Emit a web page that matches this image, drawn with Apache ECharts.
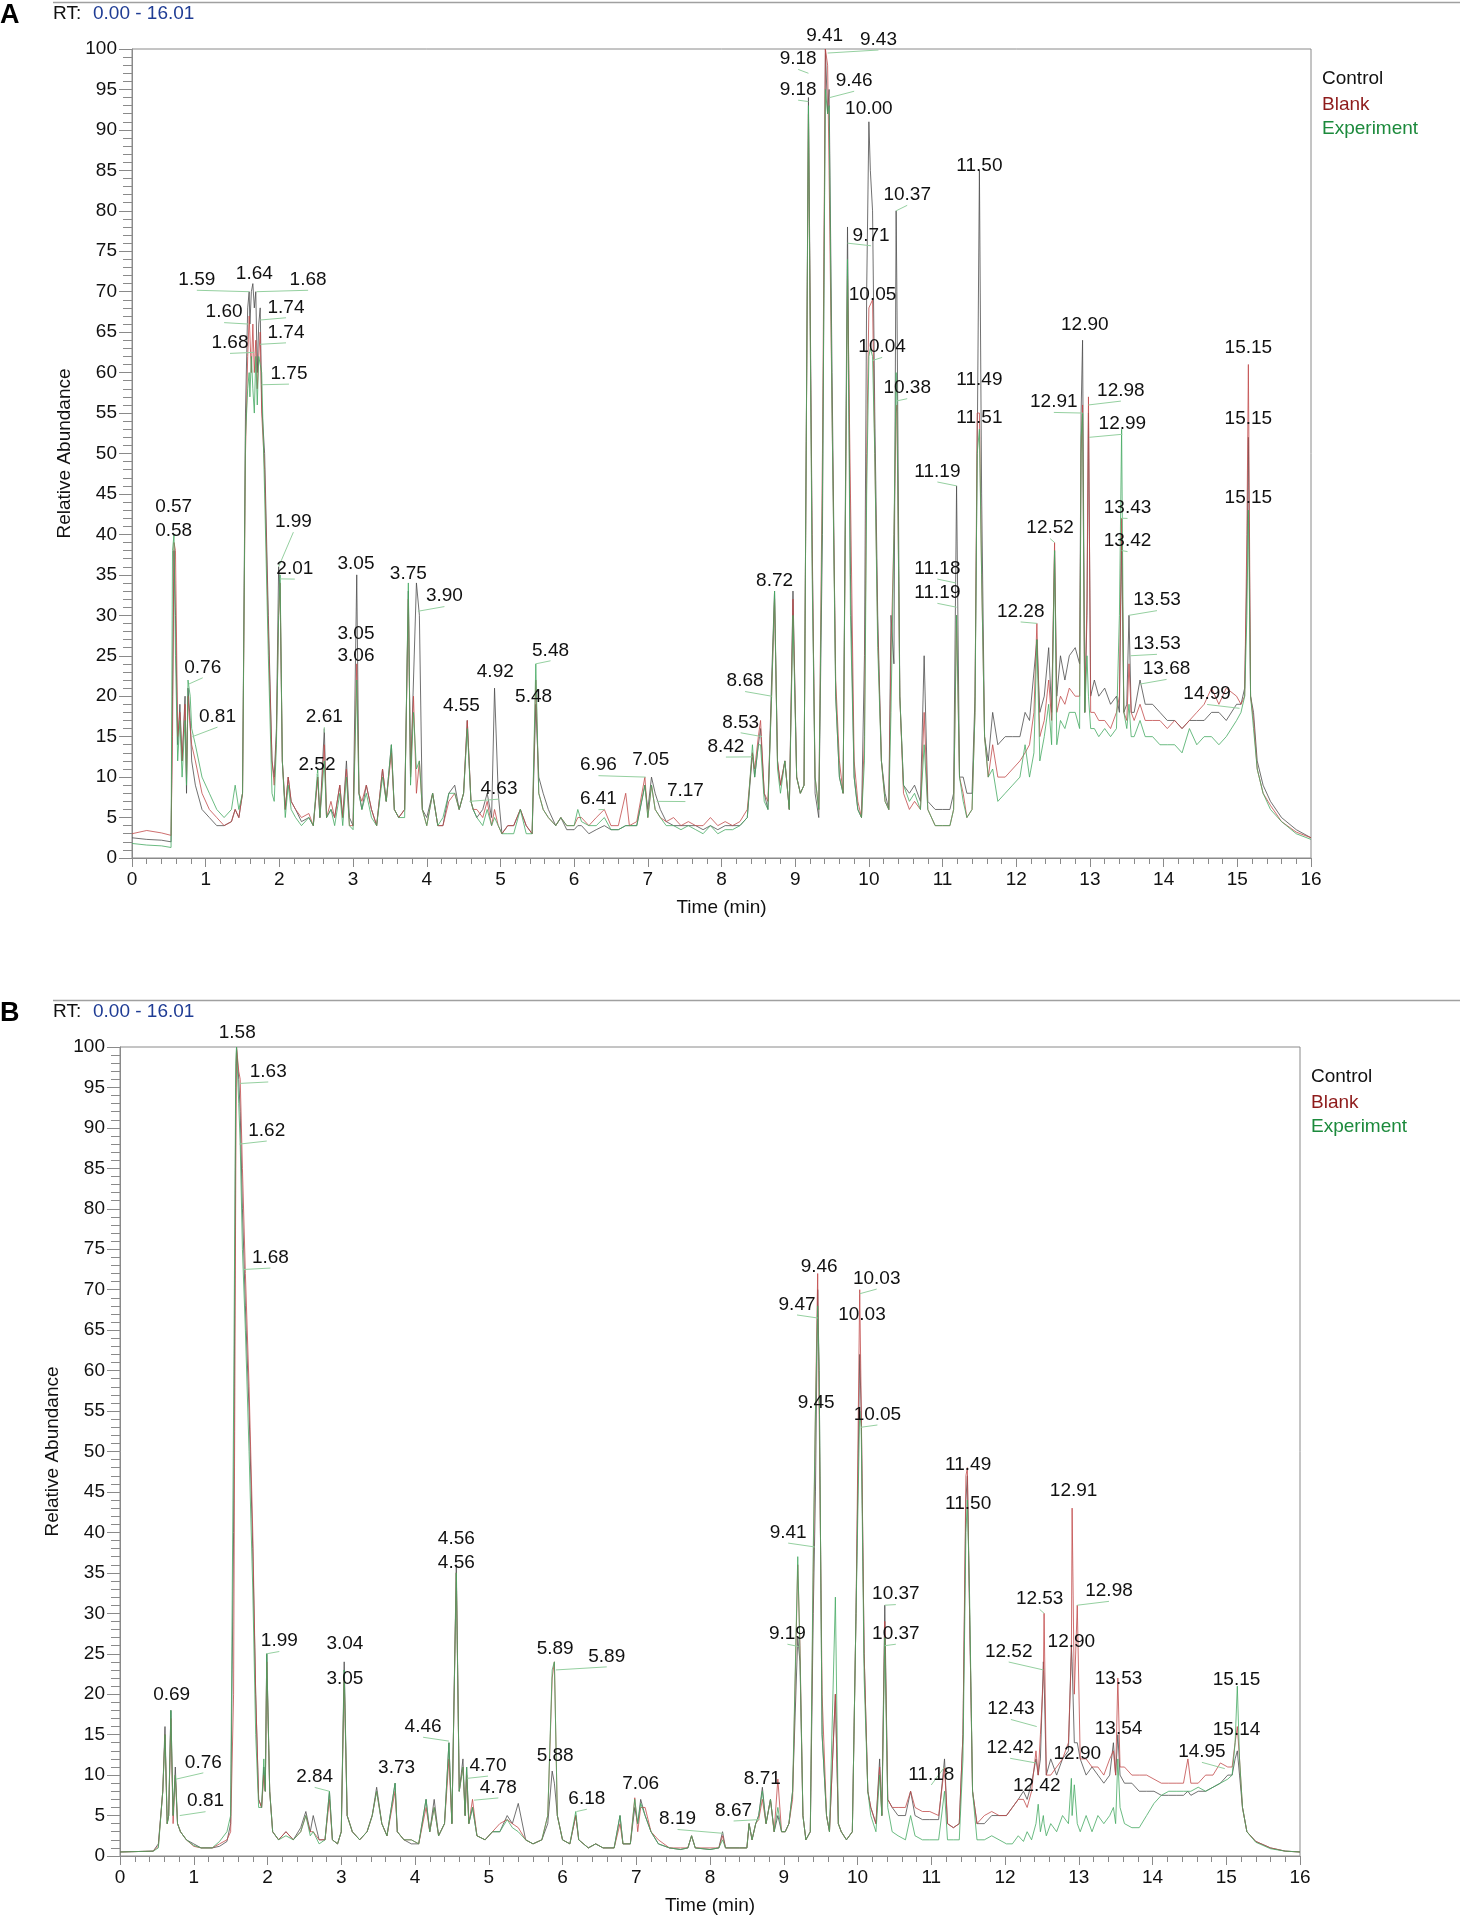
<!DOCTYPE html>
<html lang="en">
<head>
<meta charset="UTF-8">
<title>Chromatograms</title>
<script src="https://cdn.jsdelivr.net/npm/echarts@6/dist/echarts.min.js"></script>
<style>
  html, body { margin: 0; padding: 0; background: #fff; }
  #container { width: 1463px; height: 1919px; }
</style>
</head>
<body>
<div id="container"></div>
<script type="text/javascript">
// ---- panel A: retention time (min) and relative abundance per trace ----
var timesA = [
  0, 0.2, 0.4, 0.53, 0.55, 0.57, 0.59, 0.62, 0.65, 0.68,
  0.72, 0.74, 0.76, 0.79, 0.81, 0.86, 0.95, 1.05, 1.15, 1.25,
  1.35, 1.40, 1.45, 1.50, 1.54, 1.57, 1.59, 1.60, 1.62, 1.64,
  1.66, 1.68, 1.70, 1.72, 1.74, 1.76, 1.80, 1.85, 1.90, 1.93,
  1.96, 1.99, 2.01, 2.04, 2.08, 2.12, 2.16, 2.22, 2.30, 2.40,
  2.46, 2.52, 2.55, 2.61, 2.64, 2.70, 2.75, 2.82, 2.86, 2.91,
  2.95, 3.00, 3.05, 3.08, 3.12, 3.18, 3.25, 3.32, 3.40, 3.45,
  3.52, 3.56, 3.62, 3.70, 3.75, 3.78, 3.82, 3.86, 3.90, 3.94,
  4.00, 4.08, 4.15, 4.22, 4.30, 4.38, 4.44, 4.50, 4.55, 4.60,
  4.63, 4.68, 4.76, 4.82, 4.88, 4.92, 4.97, 5.02, 5.10, 5.18,
  5.27, 5.35, 5.43, 5.48, 5.52, 5.58, 5.65, 5.75, 5.82, 5.90,
  6.00, 6.05, 6.10, 6.20, 6.30, 6.41, 6.50, 6.60, 6.70, 6.75,
  6.85, 6.96, 7.00, 7.05, 7.10, 7.17, 7.25, 7.35, 7.45, 7.55,
  7.65, 7.75, 7.85, 7.95, 8.05, 8.15, 8.25, 8.35, 8.42, 8.45,
  8.50, 8.53, 8.58, 8.63, 8.68, 8.72, 8.76, 8.80, 8.86, 8.92,
  8.97, 9.02, 9.07, 9.12, 9.18, 9.23, 9.27, 9.32, 9.37, 9.41,
  9.44, 9.46, 9.50, 9.55, 9.60, 9.65, 9.71, 9.75, 9.80, 9.85,
  9.90, 9.94, 9.97, 10.00, 10.02, 10.05, 10.08, 10.12, 10.17, 10.22,
  10.27, 10.30, 10.34, 10.37, 10.38, 10.42, 10.47, 10.55, 10.62, 10.70,
  10.75, 10.80, 10.90, 11.00, 11.10, 11.15, 11.19, 11.23, 11.28, 11.33,
  11.40, 11.44, 11.47, 11.50, 11.53, 11.57, 11.62, 11.68, 11.75, 11.85,
  11.95, 12.05, 12.12, 12.18, 12.24, 12.28, 12.32, 12.38, 12.44, 12.48,
  12.52, 12.55, 12.60, 12.66, 12.72, 12.80, 12.86, 12.88, 12.90, 12.93,
  12.96, 12.98, 13.01, 13.06, 13.12, 13.20, 13.28, 13.36, 13.40, 13.43,
  13.46, 13.50, 13.53, 13.56, 13.60, 13.68, 13.75, 13.85, 13.95, 14.05,
  14.15, 14.25, 14.35, 14.45, 14.55, 14.65, 14.75, 14.85, 14.99, 15.05,
  15.10, 15.13, 15.15, 15.18, 15.22, 15.27, 15.35, 15.45, 15.60, 15.80,
  16.00
];
var controlA = [
  2.5, 2.3, 2.2, 2.0, 20, 38, 30, 14, 19, 12,
  20, 8, 21, 17, 12, 9, 6, 5, 4, 4,
  4.5, 6, 5, 8, 55, 68, 70, 66, 70, 71,
  68, 70, 60, 66, 68, 56, 50, 30, 12, 10,
  16, 36, 33, 12, 6, 10, 7, 6, 4.5, 5,
  4, 10, 5, 16, 5, 6, 5, 9, 5, 12,
  5, 4, 35, 8, 6, 9, 6, 4, 11, 7,
  14, 6, 5, 6, 33, 10, 22, 34, 30, 6,
  5, 8, 4, 4, 8, 9, 6, 8, 17, 7,
  6, 5, 6, 8, 5, 21, 8, 3, 4, 4,
  6, 4, 3, 19, 10, 8, 6, 4, 5, 3.5,
  3.5, 4, 4, 3, 3.5, 4, 3.5, 3.5, 4, 4,
  4, 9, 6, 10, 8, 6, 4.5, 4, 4, 4,
  4, 3.5, 4, 3.5, 4, 4, 4, 5, 13, 10,
  14, 16, 8, 6, 22, 33, 12, 9, 12, 6,
  33, 10, 8, 9, 94, 40, 8, 5, 40, 100,
  92, 95, 60, 20, 10, 8, 78, 35, 10, 6,
  5, 25, 70, 91, 85, 80, 55, 30, 12, 8,
  6, 30, 24, 80, 70, 20, 9, 8, 9, 7,
  25, 7, 6, 6, 6, 8, 46, 10, 10, 8,
  8, 20, 50, 85, 45, 15, 12, 18, 14, 15,
  15, 15, 18, 17, 23, 27, 18, 20, 26, 18,
  38, 20, 25, 22, 25, 26, 24, 55, 64, 18,
  30, 55, 20, 22, 20, 21, 19, 20, 18, 40,
  18, 19, 30, 18, 18, 22, 19, 19, 18, 17,
  17, 16, 17, 17, 17, 18, 18, 17, 19, 19,
  21, 35, 52, 20, 18, 12, 9, 7, 5, 3.5,
  2.5
];
var blankA = [
  3.0, 3.4, 3.1, 2.8, 15, 39, 38, 15, 18, 12,
  19, 10, 20, 16, 14, 12, 8, 6, 5, 4,
  4.5, 6, 5, 8, 50, 62, 67, 67, 60, 66,
  60, 64, 58, 62, 65, 55, 48, 28, 12, 9,
  15, 30, 34, 12, 6, 10, 7, 6, 5, 5.5,
  4, 10, 5, 14, 5, 7, 5, 9, 5, 11,
  4, 4, 24, 8, 7, 9, 6, 4, 11, 7,
  13, 6, 5, 6, 32, 10, 20, 8, 12, 6,
  4, 8, 4, 4, 7, 8, 6, 8, 17, 7,
  6, 6, 5, 7, 4, 6, 4, 3, 4, 4,
  6, 4, 3, 22, 8, 6, 5, 4, 5, 4,
  4, 5, 5, 4, 5, 6, 4, 4, 8, 4,
  4.5, 10, 5, 9, 6, 5, 4.5, 5, 4, 4.5,
  4, 4, 5, 4, 4.5, 4, 4.5, 6, 13, 11,
  15, 17, 8, 7, 20, 32, 12, 9, 12, 6,
  32, 10, 8, 9, 92, 38, 10, 6, 50, 100,
  98, 85, 55, 22, 12, 8, 72, 45, 12, 7,
  5, 15, 50, 68, 68, 69, 50, 28, 12, 7,
  6, 25, 40, 55, 56, 20, 8, 6, 7, 6,
  18, 6, 4, 4, 4, 6, 30, 10, 8, 5,
  6, 18, 55, 55, 35, 15, 10, 14, 10, 10,
  11, 12, 13, 14, 18, 29, 15, 17, 22, 17,
  39, 18, 20, 19, 21, 20, 20, 50, 56, 18,
  32, 57, 18, 18, 17, 17, 16, 18, 20, 42,
  18, 17, 24, 18, 17, 19, 17, 17, 17, 16,
  17, 16, 17, 18, 19, 21, 19, 21, 20, 19,
  20, 40, 61, 20, 17, 11, 8, 6.5, 4.5, 3.2,
  2.5
];
var experimentA = [
  1.8, 1.6, 1.5, 1.3, 38, 40, 25, 12, 17, 10,
  17, 9, 22, 20, 16, 14, 10, 8, 6, 5,
  6, 9, 6, 8, 52, 58, 60, 57, 62, 58,
  55, 62, 56, 62, 61, 60, 45, 25, 8, 7,
  14, 30, 35, 12, 5, 9, 6, 5, 4, 5,
  4, 11, 5, 12, 5, 6, 4, 8, 4, 10,
  4, 3.5, 22, 8, 6, 8, 5, 4, 10, 7,
  14, 6, 5, 5, 34, 9, 18, 11, 12, 6,
  4, 8, 4, 5, 8, 8, 6, 8, 16, 7,
  6, 5, 4, 6, 4, 5, 4, 3, 3, 3,
  6, 3, 3, 24, 8, 6, 5, 4, 5, 4,
  4, 6, 4.5, 4, 4, 5, 3.5, 3.5, 4, 4,
  4, 9, 5, 9, 6, 5, 4, 4, 3.5, 4,
  3.5, 3, 4, 3, 3.5, 3.5, 4, 5, 14, 10,
  14, 14, 7, 6, 20, 33, 11, 8, 12, 6,
  30, 10, 8, 9, 93, 35, 10, 6, 45, 95,
  92, 93, 55, 20, 10, 8, 74, 30, 10, 6,
  5, 12, 45, 62, 63, 62, 50, 26, 12, 7,
  6, 18, 40, 60, 57, 20, 9, 7, 8, 6,
  14, 6, 4, 4, 4, 6, 30, 10, 7, 5,
  6, 18, 50, 53, 35, 15, 10, 11, 7, 8,
  9, 10, 14, 10, 13, 27, 12, 15, 19, 14,
  38, 14, 17, 16, 18, 18, 16, 52, 55, 18,
  25, 20, 16, 16, 15, 16, 15, 16, 30, 53,
  18, 16, 19, 15, 15, 17, 15, 15, 14, 14,
  14, 13, 16, 14, 15, 15, 14, 15, 17, 18,
  20, 30, 43, 20, 16, 11, 8, 6, 4.5, 3,
  2.3
];

// peak labels of panel A: text, label anchor (time, abundance), leader end (null = none)
var labelTextA = ['0.57', '0.58', '0.76', '0.81', '1.59', '1.64', '1.68', '1.60', '1.74', '1.68',
  '1.74', '1.75', '1.99', '2.01', '2.61', '2.52', '3.05', '3.05', '3.06', '3.75',
  '3.90', '4.55', '4.63', '4.92', '5.48', '5.48', '6.96', '7.05', '6.41', '7.17',
  '8.42', '8.53', '8.68', '8.72', '9.41', '9.43', '9.18', '9.18', '9.46', '10.00',
  '9.71', '10.05', '10.04', '10.37', '10.38', '11.50', '11.49', '11.51', '11.19', '11.18',
  '11.19', '12.28', '12.52', '12.90', '12.91', '12.98', '12.99', '13.43', '13.42', '13.53',
  '13.53', '13.68', '14.99', '15.15', '15.15', '15.15'];
var labelTimeA = [0.565, 0.565, 0.96, 1.16, 0.88, 1.66, 2.39, 1.25, 2.09, 1.33,
  2.09, 2.13, 2.19, 2.21, 2.61, 2.51, 3.04, 3.04, 3.04, 3.75,
  4.24, 4.47, 4.98, 4.93, 5.68, 5.45, 6.33, 7.04, 6.33, 7.51,
  8.06, 8.26, 8.32, 8.72, 9.40, 10.13, 9.04, 9.04, 9.80, 10.00,
  10.03, 10.05, 10.18, 10.52, 10.52, 11.50, 11.50, 11.50, 10.93, 10.93,
  10.93, 12.06, 12.46, 12.93, 12.51, 13.42, 13.44, 13.51, 13.51, 13.91,
  13.91, 14.04, 14.59, 15.15, 15.15, 15.15];
var labelValueA = [42.2, 39.3, 22.4, 16.3, 70.3, 71.1, 70.3, 66.3, 66.9, 62.5,
  63.8, 58.7, 40.4, 34.6, 16.3, 10.4, 35.2, 26.6, 23.8, 33.9,
  31.2, 17.7, 7.4, 21.9, 24.5, 18.8, 10.3, 11.0, 6.1, 7.1,
  12.6, 15.6, 20.7, 33.1, 100.5, 100.0, 97.6, 93.8, 94.9, 91.4,
  75.8, 68.5, 62.0, 80.8, 56.9, 84.4, 57.9, 53.3, 46.6, 34.6,
  31.6, 29.3, 39.6, 64.8, 55.2, 56.6, 52.5, 42.1, 38.0, 30.7,
  25.3, 22.2, 19.1, 61.9, 53.1, 43.4];
var leadTimeA = [null, null, 0.77, 0.82, 1.59, null, 1.69, 1.58, 1.74, 1.66,
  1.74, 1.76, 1.99, 2.01, 2.61, 2.52, null, null, null, null,
  3.88, null, 4.58, null, 5.48, null, 6.97, null, 6.41, 7.12,
  8.42, 8.55, 8.68, null, null, 9.44, 9.18, 9.18, 9.47, null,
  9.71, null, 10.05, 10.37, 10.38, null, null, null, 11.19, 11.18,
  11.19, 12.28, 12.52, null, 12.90, 12.98, 12.99, 13.43, 13.43, 13.53,
  13.55, 13.68, 15.03, null, null, null];
var leadValueA = [null, null, 21.5, 15, 70, null, 70, 66, 66.5, 62.5,
  63.5, 58.5, 36, 34.5, 15.5, 10.5, null, null, null, null,
  30.5, null, 7, null, 24, null, 10, null, 6, 7,
  12.5, 15, 20, null, null, 99.5, 97, 93.5, 94, null,
  76, null, 61.5, 80, 56.5, null, null, null, 46, 34,
  31, 29, 39, null, 55, 56, 52, 42, 38, 30,
  25, 21.5, 18.5, null, null, null];

// ---- panel B ----
var timesB = [
  0, 0.45, 0.52, 0.58, 0.61, 0.64, 0.66, 0.69, 0.72, 0.75,
  0.78, 0.82, 0.90, 1.00, 1.10, 1.25, 1.35, 1.45, 1.50, 1.54,
  1.57, 1.58, 1.61, 1.63, 1.66, 1.70, 1.75, 1.80, 1.84, 1.88,
  1.92, 1.95, 1.97, 1.99, 2.03, 2.07, 2.15, 2.25, 2.35, 2.45,
  2.52, 2.58, 2.62, 2.70, 2.78, 2.84, 2.88, 2.95, 3.00, 3.04,
  3.08, 3.15, 3.25, 3.35, 3.42, 3.48, 3.55, 3.62, 3.73, 3.76,
  3.85, 3.95, 4.05, 4.15, 4.20, 4.26, 4.32, 4.40, 4.46, 4.50,
  4.56, 4.60, 4.65, 4.68, 4.70, 4.73, 4.78, 4.84, 4.95, 5.05,
  5.15, 5.25, 5.32, 5.40, 5.50, 5.60, 5.72, 5.80, 5.86, 5.89,
  5.93, 6.00, 6.10, 6.18, 6.22, 6.35, 6.45, 6.55, 6.70, 6.78,
  6.82, 6.92, 6.98, 7.02, 7.06, 7.12, 7.20, 7.30, 7.45, 7.60,
  7.70, 7.75, 7.80, 8.00, 8.12, 8.17, 8.21, 8.40, 8.50, 8.53,
  8.57, 8.62, 8.66, 8.71, 8.76, 8.82, 8.87, 8.92, 8.97, 9.02,
  9.07, 9.12, 9.19, 9.22, 9.26, 9.30, 9.36, 9.40, 9.43, 9.46,
  9.48, 9.52, 9.58, 9.62, 9.70, 9.74, 9.78, 9.85, 9.93, 9.98,
  10.03, 10.05, 10.09, 10.14, 10.18, 10.25, 10.30, 10.33, 10.37, 10.41,
  10.47, 10.55, 10.65, 10.72, 10.78, 10.88, 10.98, 11.10, 11.18, 11.22,
  11.30, 11.38, 11.43, 11.47, 11.49, 11.52, 11.56, 11.62, 11.72, 11.82,
  11.92, 12.02, 12.10, 12.18, 12.25, 12.30, 12.36, 12.42, 12.45, 12.48,
  12.52, 12.53, 12.56, 12.62, 12.70, 12.78, 12.86, 12.90, 12.91, 12.94,
  12.98, 13.02, 13.10, 13.18, 13.26, 13.34, 13.42, 13.47, 13.50, 13.53,
  13.56, 13.62, 13.72, 13.82, 13.92, 14.02, 14.12, 14.22, 14.32, 14.42,
  14.48, 14.52, 14.62, 14.72, 14.82, 14.92, 15.02, 15.08, 15.12, 15.15,
  15.18, 15.22, 15.28, 15.40, 15.60, 15.80, 16.00
];
var controlB = [
  0.5, 0.6, 1.5, 8, 16, 4, 5, 18, 5, 11,
  4, 3, 2, 1.5, 1, 1, 1.2, 1.8, 4, 40,
  95, 100, 96, 92, 80, 68, 55, 38, 20, 7,
  6, 11, 8, 25, 8, 3, 2, 3, 2, 3.5,
  5.5, 3, 5, 2, 2, 8, 2, 1.5, 3, 24,
  5, 3, 2, 3, 5, 8.5, 4, 2.5, 9, 3,
  2, 1.5, 1.5, 7, 3, 7, 2.5, 4, 14, 4,
  36, 8, 12, 5, 11, 4, 6, 2.5, 2, 3,
  3, 5, 4, 6.5, 2, 1.5, 2, 4, 10.5, 9,
  5, 2, 1.5, 5, 2, 1, 1.5, 1, 1, 5,
  1.5, 1.5, 6, 4, 7, 5, 3, 1.5, 1, 0.8,
  1, 2.5, 1, 0.8, 1, 3, 1, 1, 1, 4,
  2, 4, 5, 8.5, 4, 7, 3, 5, 3, 3,
  4, 8, 27, 24, 5, 2, 3, 30, 45, 70,
  60, 15, 5, 3, 20, 4, 3, 2, 3, 30,
  62, 55, 25, 8, 6, 4, 12, 5, 31, 7,
  6, 5, 5, 8, 5, 4.5, 4.5, 4.5, 12, 4,
  3.5, 4, 15, 44, 47, 30, 8, 4, 4, 5,
  5, 5, 6, 7, 8, 7, 9, 12, 10, 12,
  24, 22, 10, 12, 10, 12, 13, 26, 24, 14,
  14, 12, 10, 11, 10, 9, 10, 14, 10, 15,
  10, 9, 9, 8, 8, 8, 7.5, 7.5, 7.5, 7.5,
  8, 7.5, 8, 8, 8.5, 9, 10, 10, 12, 13,
  10, 6, 3, 1.8, 1.0, 0.6, 0.5
];
var blankB = [
  0.5, 0.6, 1.2, 8, 15, 4, 5, 17, 4, 10,
  4, 3, 2, 1.2, 1, 1, 1.5, 2, 3, 20,
  85, 100, 97, 96, 85, 72, 58, 40, 20, 7,
  6, 10, 8, 24, 8, 3, 2, 3, 2, 3,
  5, 3, 3, 2, 2, 7, 2, 1.5, 3, 22,
  5, 3, 2, 3, 5, 8, 4, 2.5, 8, 3,
  2, 2, 1.5, 6, 3, 6, 2.5, 4, 12, 4,
  35, 8, 11, 5, 10, 4, 7, 2.5, 2, 3,
  4, 4.5, 4, 3.5, 2, 1.5, 2, 5, 22, 24,
  5, 2, 1.5, 5, 2, 1, 1.5, 1, 1, 4,
  1.5, 1.5, 7.2, 3, 6, 6, 3, 2, 1, 1,
  1, 2.5, 1, 1, 1, 2.5, 1, 1, 1, 4,
  2, 4, 4.5, 7, 4, 7, 3, 9.5, 3, 3,
  4, 7, 36, 26, 5, 2, 3, 35, 55, 72,
  55, 20, 5, 3, 20, 4, 3, 2, 3, 30,
  70, 56, 25, 8, 6, 4, 11, 5, 29, 7,
  6, 6, 6, 8, 6, 5.5, 5.5, 5, 11, 4,
  3.5, 4, 15, 47, 48, 30, 8, 4, 5, 5.5,
  5, 5, 6, 7, 7, 6, 8, 13, 10, 15,
  22, 30, 10, 10, 11, 12, 14, 25, 43, 20,
  31, 12, 12, 11, 11, 10, 12, 13, 10, 22,
  11, 11, 10, 10, 10, 9.5, 9, 9, 9, 9,
  12, 9, 9, 10, 10, 11.5, 11, 11, 14, 16,
  12, 6, 3, 1.8, 1.0, 0.6, 0.5
];
var experimentB = [
  0.5, 0.6, 1.0, 8, 15, 4, 5, 18, 5, 10,
  4, 3, 2, 1.3, 1, 1, 1.8, 3, 5, 55,
  98, 100, 93, 88, 75, 65, 50, 33, 15, 6,
  6, 12, 8, 25, 8, 3, 2, 2.5, 2, 3,
  5, 2.5, 3, 1.5, 2, 8, 2, 1.5, 3, 23,
  5, 3, 2, 3, 5, 8, 4, 2.5, 9, 3,
  2, 2, 1.5, 7, 3, 6, 2.5, 4, 14, 4,
  35, 8, 11, 5, 11, 4, 6, 2.5, 2, 3,
  3, 4.5, 3.5, 3, 2, 1.5, 2, 5, 23, 24,
  5, 2, 1.5, 5.5, 2, 1, 1.5, 1, 1, 5,
  1.5, 1.5, 7, 4, 6.5, 5, 3, 1.5, 1, 0.8,
  1, 2.5, 1, 0.8, 1, 2, 1, 1, 1, 4,
  2, 4, 5, 8, 4, 7, 3, 6, 3, 3,
  4, 8, 37, 25, 5, 2, 3, 38, 55, 68,
  60, 15, 5, 3, 32, 4, 3, 2, 3, 30,
  55, 53, 22, 8, 5, 3, 10, 5, 27, 6,
  3, 2.5, 2, 5, 2.5, 2, 2, 2, 8, 2,
  2, 2, 12, 40, 44, 32, 8, 2, 2, 2.5,
  2, 1.5, 1.5, 2.5, 1.8, 3, 2, 4, 6.4, 3,
  5, 4, 2.5, 4, 3, 5, 4, 9.6, 5, 8.8,
  4, 3, 5, 3, 5, 4, 5, 6, 4, 12,
  6, 4, 3.5, 3.5, 5, 6.5, 7.5, 8, 8, 8,
  8, 8, 8.5, 8, 8.5, 9, 9.5, 10, 14, 21,
  12, 6, 3, 1.7, 0.9, 0.6, 0.5
];

var labelTextB = ['1.58', '1.63', '1.62', '1.68', '0.69', '0.76', '0.81', '1.99', '2.84', '3.04',
  '3.05', '3.73', '4.46', '4.56', '4.56', '4.70', '4.78', '5.89', '5.89', '5.88',
  '6.18', '7.06', '8.19', '8.67', '8.71', '9.41', '9.19', '9.46', '9.47', '9.45',
  '10.03', '10.03', '10.05', '10.37', '10.37', '11.18', '11.49', '11.50', '12.52', '12.53',
  '12.43', '12.42', '12.42', '12.90', '12.90', '12.91', '12.98', '13.53', '13.54', '14.95',
  '15.15', '15.14'];
var labelTimeB = [1.59, 2.01, 1.99, 2.04, 0.70, 1.13, 1.16, 2.16, 2.64, 3.05,
  3.05, 3.75, 4.11, 4.56, 4.56, 4.99, 5.13, 5.90, 6.60, 5.90,
  6.33, 7.06, 7.56, 8.32, 8.71, 9.06, 9.05, 9.48, 9.18, 9.44,
  10.26, 10.06, 10.27, 10.52, 10.52, 11.00, 11.50, 11.50, 12.05, 12.47,
  12.08, 12.07, 12.43, 12.90, 12.98, 12.93, 13.41, 13.54, 13.54, 14.67,
  15.14, 15.14];
var labelValueB = [100.6, 95.8, 88.5, 72.8, 18.8, 10.4, 5.6, 25.4, 8.6, 25.1,
  20.7, 9.7, 14.8, 38.0, 35.1, 10.0, 7.3, 24.5, 23.5, 11.2,
  5.9, 7.8, 3.4, 4.45, 8.4, 38.8, 26.3, 71.6, 67.0, 54.9,
  70.2, 65.7, 53.4, 31.2, 26.3, 8.9, 47.2, 42.4, 24.1, 30.6,
  17.0, 12.2, 7.5, 25.3, 11.5, 44.0, 31.6, 20.7, 14.5, 11.7,
  20.6, 14.4];
var leadTimeB = [null, 1.63, 1.62, 1.68, null, 0.76, 0.81, 1.99, 2.84, null,
  null, null, 4.46, null, null, 4.71, 4.80, null, 5.91, null,
  6.19, null, 8.18, 8.67, null, 9.42, 9.20, null, 9.46, null,
  10.03, null, 10.05, 10.37, 10.37, 11.18, null, null, 12.52, 12.53,
  12.43, 12.42, null, null, null, null, 12.98, null, null, 14.98,
  null, null];
var leadValueB = [null, 95.5, 88, 72.5, null, 9.5, 5, 25, 8, null,
  null, null, 14.2, null, null, 9.6, 6.9, null, 23, null,
  5.5, null, 2.8, 4.5, null, 38.2, 25.9, null, 66.5, null,
  69.5, null, 53, 31, 26, 11, null, null, 23, 30,
  16, 11.5, null, null, null, null, 31, null, null, 10.8,
  null, null];

var dom = document.getElementById('container');
var myChart = echarts.init(dom, null, { renderer: 'canvas' });

var FONT = '"Liberation Sans", Arial, sans-serif';
var AXIS_GRAY = '#8a8a8a';
var traceColors = { control: '#4d4d4d', blank: '#c24a4a', experiment: '#45aa62' };

function zip(t, v) {
  return t.map(function (x, i) { return [x, v[i]]; });
}

function traceSeries(name, idx, times, values, color) {
  return {
    name: name,
    type: 'line',
    xAxisIndex: idx,
    yAxisIndex: idx,
    data: zip(times, values),
    showSymbol: false,
    symbol: 'none',
    lineStyle: { color: color, width: 0.8 },
    itemStyle: { color: color },
    z: 2
  };
}

function labelSeries(idx, texts, tt, tv, lt, lv) {
  var rows = texts.map(function (s, i) {
    return [tt[i], tv[i], lt[i] == null ? tt[i] : lt[i], lv[i] == null ? tv[i] : lv[i], i];
  });
  return {
    type: 'custom',
    xAxisIndex: idx,
    yAxisIndex: idx,
    clip: false,
    z: 5,
    silent: true,
    data: rows,
    encode: { x: [0, 2], y: [1, 3] },
    renderItem: function (params, api) {
      var i = api.value(4);
      var p = api.coord([api.value(0), api.value(1)]);
      var children = [];
      if (lt[i] != null) {
        var q = api.coord([api.value(2), api.value(3)]);
        children.push({
          type: 'line',
          shape: { x1: p[0], y1: p[1] + 1, x2: q[0], y2: q[1] },
          style: { stroke: '#95d0a0', lineWidth: 1 }
        });
      }
      children.push({
        type: 'text',
        style: {
          text: texts[i], x: p[0], y: p[1],
          align: 'center', verticalAlign: 'bottom',
          font: '19px ' + FONT, fill: '#111'
        }
      });
      return { type: 'group', children: children };
    }
  };
}

function makeX(idx) {
  return {
    type: 'value', gridIndex: idx, min: 0, max: 16, interval: 1,
    axisLine: { show: true, onZero: false, lineStyle: { color: AXIS_GRAY } },
    axisTick: { show: true, inside: false, length: 9, lineStyle: { color: AXIS_GRAY } },
    minorTick: { show: true, splitNumber: 5, length: 6, lineStyle: { color: AXIS_GRAY } },
    splitLine: { show: false },
    axisLabel: { fontSize: 19, color: '#111', fontFamily: FONT, margin: 12 },
    name: 'Time (min)', nameLocation: 'middle', nameGap: 40,
    nameTextStyle: { fontSize: 19, color: '#111', fontFamily: FONT }
  };
}

function makeY(idx) {
  return {
    type: 'value', gridIndex: idx, min: 0, max: 100, interval: 5,
    axisLine: { show: true, onZero: false, lineStyle: { color: AXIS_GRAY } },
    axisTick: { show: true, inside: false, length: 13, lineStyle: { color: AXIS_GRAY } },
    minorTick: { show: true, splitNumber: 5, length: 9, lineStyle: { color: AXIS_GRAY } },
    splitLine: { show: false },
    axisLabel: { fontSize: 19, color: '#111', fontFamily: FONT, margin: 15 },
    name: 'Relative Abundance', nameLocation: 'middle', nameGap: 52,
    nameTextStyle: { fontSize: 19, color: '#111', fontFamily: FONT }
  };
}

function header(letter, top, legendX, legendTop) {
  return [
    { type: 'line', shape: { x1: 53, y1: top + 2.5, x2: 1460, y2: top + 2.5 },
      style: { stroke: '#a0a0a0', lineWidth: 1.5 } },
    { type: 'text', x: 0, y: top + 16,
      style: { text: letter, font: 'bold 27px ' + FONT, fill: '#000', verticalAlign: 'middle' } },
    { type: 'text', x: 53, y: top + 14,
      style: { text: 'RT:', font: '19px ' + FONT, fill: '#111', verticalAlign: 'middle' } },
    { type: 'text', x: 93, y: top + 14,
      style: { text: '0.00 - 16.01', font: '19px ' + FONT, fill: '#1f3c94', verticalAlign: 'middle' } },
    { type: 'text', x: legendX, y: legendTop,
      style: { text: 'Control', font: '19px ' + FONT, fill: '#111', verticalAlign: 'middle' } },
    { type: 'text', x: legendX, y: legendTop + 26,
      style: { text: 'Blank', font: '19px ' + FONT, fill: '#8e1b1b', verticalAlign: 'middle' } },
    { type: 'text', x: legendX, y: legendTop + 50,
      style: { text: 'Experiment', font: '19px ' + FONT, fill: '#1c8a3c', verticalAlign: 'middle' } }
  ];
}

var option = {
  animation: false,
  backgroundColor: '#fff',
  grid: [
    { left: 132, top: 49, width: 1179, height: 809, show: true, borderColor: AXIS_GRAY, borderWidth: 1 },
    { left: 120, top: 1047, width: 1180, height: 809, show: true, borderColor: AXIS_GRAY, borderWidth: 1 }
  ],
  xAxis: [makeX(0), makeX(1)],
  yAxis: [makeY(0), makeY(1)],
  graphic: header('A', 0, 1322, 79).concat(header('B', 998, 1311, 1077)),
  series: [
    traceSeries('Control', 0, timesA, controlA, traceColors.control),
    traceSeries('Blank', 0, timesA, blankA, traceColors.blank),
    traceSeries('Experiment', 0, timesA, experimentA, traceColors.experiment),
    labelSeries(0, labelTextA, labelTimeA, labelValueA, leadTimeA, leadValueA),
    traceSeries('Control', 1, timesB, controlB, traceColors.control),
    traceSeries('Blank', 1, timesB, blankB, traceColors.blank),
    traceSeries('Experiment', 1, timesB, experimentB, traceColors.experiment),
    labelSeries(1, labelTextB, labelTimeB, labelValueB, leadTimeB, leadValueB)
  ]
};

myChart.setOption(option);
window.addEventListener('resize', myChart.resize);
</script>
</body>
</html>
